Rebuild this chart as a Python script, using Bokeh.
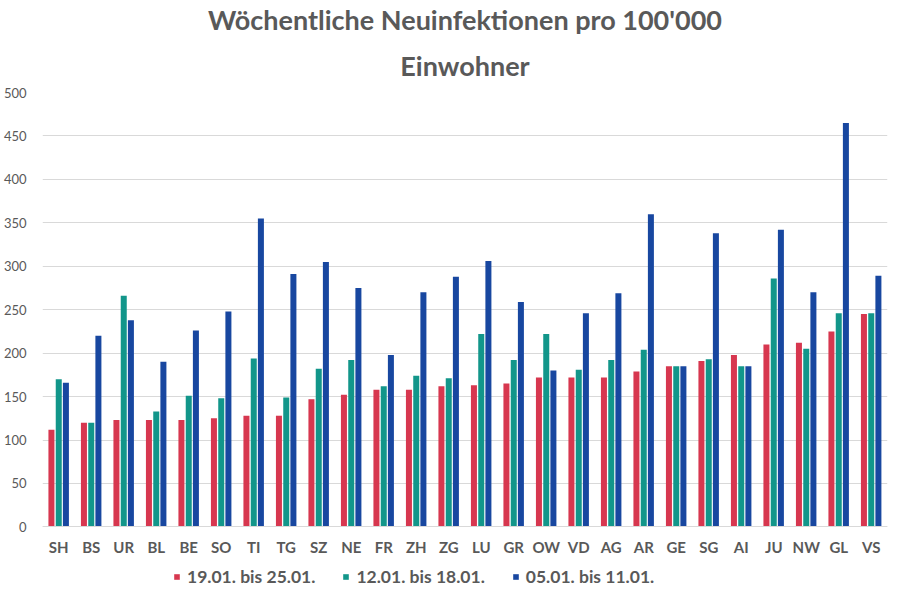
from bokeh.plotting import figure
from bokeh.models import (ColumnDataSource, FactorRange, Range1d, Legend, LegendItem,
                          Title, CategoricalAxis)
from bokeh.transform import dodge
from bokeh.embed import file_html
from bokeh.resources import INLINE

cantons = ["SH", "BS", "UR", "BL", "BE", "SO", "TI", "TG", "SZ", "NE", "FR", "ZH", "ZG",
           "LU", "GR", "OW", "VD", "AG", "AR", "GE", "SG", "AI", "JU", "NW", "GL", "VS"]
week_19_25 = [112, 120, 123, 123, 123, 125, 128, 128, 147, 152, 158, 158, 162,
              163, 165, 172, 172, 172, 179, 185, 191, 198, 210, 212, 225, 245]
week_12_18 = [170, 120, 266, 133, 151, 148, 194, 149, 182, 192, 162, 174, 171,
              222, 192, 222, 181, 192, 204, 185, 193, 185, 286, 205, 246, 246]
week_05_11 = [166, 220, 238, 190, 226, 248, 355, 291, 305, 275, 198, 270, 288,
              306, 259, 180, 246, 269, 360, 185, 338, 185, 342, 270, 465, 289]
series_labels = ["19.01. bis 25.01.", "12.01. bis 18.01.", "05.01. bis 11.01."]
y_ticks = [0, 50, 100, 150, 200, 250, 300, 350, 400, 450, 500]

colors = ["#D7374F", "#12968A", "#1847A0"]
grey = "#595959"
font = "Lato"

src = ColumnDataSource(dict(c=cantons, a=week_19_25, b=week_12_18, d=week_05_11))

# the frame extends below 0 to hold the category labels and legend
p = figure(frame_width=845, frame_height=497,
           x_range=FactorRange(factors=cantons, range_padding=0),
           y_range=Range1d(-72, 500), output_backend="svg", toolbar_location=None,
           min_border_left=36, min_border_right=3, min_border_top=90, min_border_bottom=0,
           x_axis_location=None)

r1 = p.vbar(x=dodge("c", -0.225, range=p.x_range), top="a", width=0.185, source=src,
            color=colors[0], line_color=None)
r2 = p.vbar(x=dodge("c", 0.0, range=p.x_range), top="b", width=0.185, source=src,
            color=colors[1], line_color=None)
r3 = p.vbar(x=dodge("c", 0.22, range=p.x_range), top="d", width=0.185, source=src,
            color=colors[2], line_color=None)

p.outline_line_color = None
p.background_fill_color = "white"
p.border_fill_color = "white"

for g in p.grid:
    if g.dimension == 0:
        g.grid_line_color = None
p.ygrid.grid_line_color = "#D9D9D9"
p.ygrid.grid_line_width = 1
p.yaxis.ticker = y_ticks

p.yaxis.axis_line_color = None
p.yaxis.major_tick_line_color = None
p.yaxis.minor_tick_line_color = None
p.yaxis.major_label_text_font = font
p.yaxis.major_label_text_font_size = "13px"
p.yaxis.major_label_text_color = grey
p.yaxis.major_label_standoff = 10

xaxis = CategoricalAxis(fixed_location=0)
xaxis.axis_line_color = "#D9D9D9"
xaxis.major_tick_line_color = None
xaxis.minor_tick_line_color = None
xaxis.major_label_text_font = font
xaxis.major_label_text_font_size = "15px"
xaxis.major_label_text_font_style = "bold"
xaxis.major_label_text_color = grey
xaxis.major_label_standoff = 5
p.add_layout(xaxis, "below")

legend = Legend(items=[LegendItem(label=series_labels[0], renderers=[r1]),
                       LegendItem(label=series_labels[1], renderers=[r2]),
                       LegendItem(label=series_labels[2], renderers=[r3])],
                orientation="horizontal", location=(131, 2),
                label_text_font=font, label_text_font_size="17.5px",
                label_text_font_style="bold", label_text_color=grey,
                glyph_width=7, glyph_height=7, label_standoff=7, spacing=27,
                label_height=18,
                border_line_color=None, background_fill_alpha=0,
                padding=0, margin=0)
p.add_layout(legend, "center")

p.add_layout(Title(text="Einwohner", align="center", text_font=font, text_font_size="27px",
                   text_font_style="bold", text_color=grey, standoff=22), "above")
p.add_layout(Title(text="Wöchentliche Neuinfektionen pro 100'000", align="center",
                   text_font=font, text_font_size="27px", text_font_style="bold",
                   text_color=grey, standoff=0), "above")

open("out.html", "w").write(file_html(p, INLINE))
